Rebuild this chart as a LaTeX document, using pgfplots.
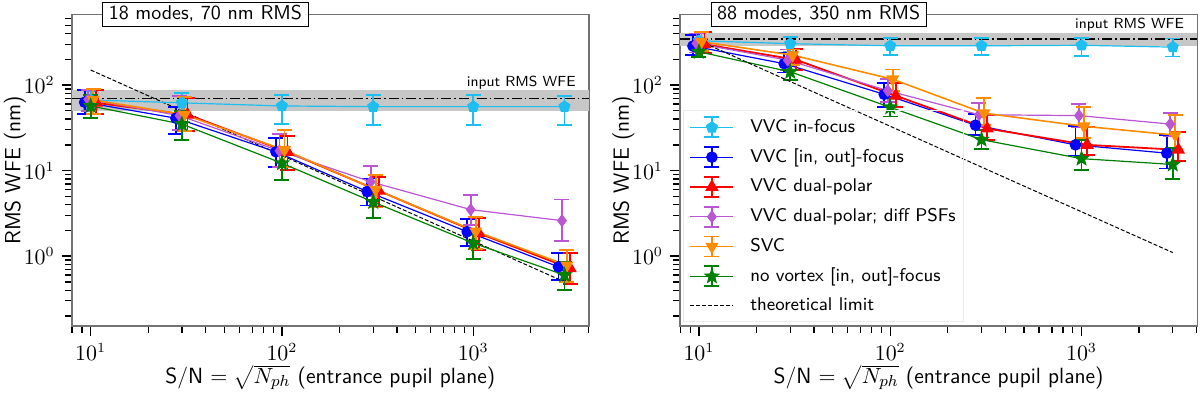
\documentclass[border=0pt]{standalone}
\usepackage{pgfplots}
\pgfplotsset{compat=1.18}

\definecolor{cCyan}{RGB}{30,190,240}
\definecolor{cBlue}{RGB}{0,0,255}
\definecolor{cRed}{RGB}{255,0,0}
\definecolor{cPurple}{RGB}{186,85,211}
\definecolor{cOrange}{RGB}{255,140,0}
\definecolor{cGreen}{RGB}{0,128,0}

\newcommand\fs[1]{\fontsize{#1}{#1}\selectfont}

% filled five-point star
\pgfdeclareplotmark{fstar}{%
  \pgfpathmoveto{\pgfpointpolar{90}{1.3\pgfplotmarksize}}%
  \pgfpathlineto{\pgfpointpolar{126}{0.55\pgfplotmarksize}}%
  \pgfpathlineto{\pgfpointpolar{162}{1.3\pgfplotmarksize}}%
  \pgfpathlineto{\pgfpointpolar{198}{0.55\pgfplotmarksize}}%
  \pgfpathlineto{\pgfpointpolar{234}{1.3\pgfplotmarksize}}%
  \pgfpathlineto{\pgfpointpolar{270}{0.55\pgfplotmarksize}}%
  \pgfpathlineto{\pgfpointpolar{306}{1.3\pgfplotmarksize}}%
  \pgfpathlineto{\pgfpointpolar{342}{0.55\pgfplotmarksize}}%
  \pgfpathlineto{\pgfpointpolar{18}{1.3\pgfplotmarksize}}%
  \pgfpathlineto{\pgfpointpolar{54}{0.55\pgfplotmarksize}}%
  \pgfpathclose\pgfusepathqfillstroke}

\pgfplotsset{
  ebleg/.style={legend image code/.code={
      \draw[##1,line width=0.9pt] (10.75pt,-5pt) -- (10.75pt,5pt)
        (7pt,-5pt) -- (14.5pt,-5pt) (7pt,5pt) -- (14.5pt,5pt);
      \draw[##1] (0pt,0pt) -- (21.5pt,0pt);
      \draw[##1] plot coordinates {(10.75pt,0pt)};
  }},
  sCyan/.style={cCyan, mark=pentagon*, line width=0.6pt, mark size=2.8pt, ebleg},
  sBlue/.style={cBlue, mark=*, line width=0.6pt, mark size=2.6pt, ebleg},
  sRed/.style={cRed, mark=triangle*, line width=0.9pt, mark size=3pt, ebleg},
  sPurple/.style={cPurple, mark=diamond*, line width=0.6pt, mark size=2.8pt, ebleg},
  sOrange/.style={cOrange, mark=triangle*, mark options={rotate=180}, line width=0.8pt, mark size=3pt, ebleg},
  sGreen/.style={cGreen, mark=fstar, line width=0.6pt, mark size=2.7pt, ebleg},
  sTheory/.style={black, dash pattern=on 2pt off 1pt, line width=0.5pt, mark=none,
    error bars/y dir=none,
    legend image code/.code={\draw[##1] (0pt,0pt) -- (21.5pt,0pt);}},
  sBand/.style={forget plot, draw=none, fill=black!22, error bars/y dir=none},
  sInput/.style={forget plot, black, line width=0.7pt, error bars/y dir=none,
    dash pattern=on 5pt off 1.5pt on 0.8pt off 1.5pt},
}

\begin{document}
\begin{tikzpicture}
% ---------------- left: 18 modes ----------------
\begin{axis}[
    at={(0pt,0pt)}, anchor=south west,
    xmode=log, ymode=log,
    scale only axis, width=258.65pt, height=155.85pt,
    xmin=7.96, xmax=4030, ymin=0.152, ymax=671,
    clip=false,
    axis line style={draw=black!55, line width=0.8pt},
    tick align=outside, xtick pos=bottom, ytick pos=left,
    major tick length=5pt, minor tick length=3.3pt,
    every tick/.style={black, line width=0.65pt},
    xtick={10,100,1000}, ytick={1,10,100},
    minor xtick={8,9,20,30,40,50,60,70,80,90,200,300,400,500,600,700,800,900,2000,3000,4000},
    minor ytick={0.2,0.3,0.4,0.5,0.6,0.7,0.8,0.9,2,3,4,5,6,7,8,9,20,30,40,50,60,70,80,90,200,300,400,500,600},
    tick label style={font=\fs{10.5}},
    xlabel={S/N $=\sqrt{N_{ph}}$ (entrance pupil plane)},
    ylabel={RMS WFE (nm)},
    label style={font=\fs{11}\sffamily},
    xlabel style={at={(axis description cs:0.5,-0.183)}, anchor=base},
    ylabel style={at={(axis description cs:-0.1096,0.5)}, rotate=0, anchor=center},
    error bars/y dir=both, error bars/y explicit,
    error bars/error bar style={line width=0.9pt},
    error bars/error mark options={rotate=90, mark size=3.75pt, line width=0.9pt},
]
\addplot[sBand] coordinates {(7.96,50) (4030,50) (4030,87) (7.96,87)} -- cycle;
\addplot[sInput] coordinates {(7.96,70) (4030,70)};
\addplot[forget plot, sTheory] coordinates {(10,150) (3000,0.5)};

\addplot[sCyan] coordinates {
  (10,67) += (0,19) -= (0,15)
  (30,62) += (0,18) -= (0,14)
  (100,57) += (0,19) -= (0,22)
  (300,56) += (0,20) -= (0,22)
  (1000,56) += (0,20) -= (0,22)
  (3000,56) += (0,19) -= (0,22)
};
\addplot[sBlue] coordinates {
  (9.3,63) += (0,24) -= (0,17)
  (27.9,41) += (0,14) -= (0,14)
  (93,16.6) += (0,7.4) -= (0,5.6)
  (279,5.7) += (0,2.4) -= (0,1.8)
  (930,1.93) += (0,0.77) -= (0,0.63)
  (2790,0.75) += (0,0.33) -= (0,0.22)
};
\addplot[sRed] coordinates {
  (10.7,62) += (0,26) -= (0,16)
  (32.1,45) += (0,25) -= (0,16)
  (107,16.5) += (0,9) -= (0,6.3)
  (321,5.8) += (0,2.6) -= (0,2.0)
  (1070,1.85) += (0,0.95) -= (0,0.68)
  (3210,0.72) += (0,0.36) -= (0,0.25)
};
\addplot[sPurple] coordinates {
  (9.7,68) += (0,20) -= (0,18)
  (29.1,44) += (0,30) -= (0,14)
  (97,17) += (0,10) -= (0,6)
  (291,7.4) += (0,3.8) -= (0,2.4)
  (970,3.5) += (0,1.7) -= (0,1.2)
  (2910,2.6) += (0,2.0) -= (0,1.1)
};
\addplot[sOrange] coordinates {
  (10.3,67) += (0,23) -= (0,21)
  (30.9,45) += (0,27) -= (0,16)
  (103,17.4) += (0,12.6) -= (0,6.4)
  (309,6.0) += (0,2.9) -= (0,2.3)
  (1030,1.95) += (0,0.9) -= (0,0.75)
  (3090,0.78) += (0,0.39) -= (0,0.28)
};
\addplot[sGreen] coordinates {
  (10,57) += (0,19) -= (0,16)
  (30,35) += (0,15) -= (0,12)
  (100,12.2) += (0,5.8) -= (0,4.5)
  (300,4.3) += (0,2.0) -= (0,1.5)
  (1000,1.42) += (0,0.68) -= (0,0.49)
  (3000,0.6) += (0,0.26) -= (0,0.2)
};

\node[anchor=east, font=\fs{7.3}\sffamily, inner sep=0pt] at (axis cs:3446,105.5) {input RMS WFE};
\node[anchor=west, draw=black, line width=0.5pt, fill=white, font=\fs{10}\sffamily,
      inner xsep=3pt, inner ysep=1.5pt, text height=7pt, text depth=1.9pt]
      at (axis cs:11.5,671) {18 modes, 70 nm RMS};
\end{axis}

% ---------------- right: 88 modes ----------------
\begin{axis}[
    at={(304.15pt,0pt)}, anchor=south west,
    xmode=log, ymode=log,
    scale only axis, width=258.65pt, height=155.85pt,
    xmin=7.96, xmax=4030, ymin=0.152, ymax=671,
    clip=false,
    axis line style={draw=black!55, line width=0.8pt},
    tick align=outside, xtick pos=bottom, ytick pos=left,
    major tick length=5pt, minor tick length=3.3pt,
    every tick/.style={black, line width=0.65pt},
    xtick={10,100,1000}, ytick={1,10,100},
    minor xtick={8,9,20,30,40,50,60,70,80,90,200,300,400,500,600,700,800,900,2000,3000,4000},
    minor ytick={0.2,0.3,0.4,0.5,0.6,0.7,0.8,0.9,2,3,4,5,6,7,8,9,20,30,40,50,60,70,80,90,200,300,400,500,600},
    tick label style={font=\fs{10.5}},
    xlabel={S/N $=\sqrt{N_{ph}}$ (entrance pupil plane)},
    ylabel={RMS WFE (nm)},
    label style={font=\fs{11}\sffamily},
    xlabel style={at={(axis description cs:0.5,-0.183)}, anchor=base},
    ylabel style={at={(axis description cs:-0.1096,0.5)}, rotate=0, anchor=center},
    error bars/y dir=both, error bars/y explicit,
    error bars/error bar style={line width=0.9pt},
    error bars/error mark options={rotate=90, mark size=3.75pt, line width=0.9pt},
    legend cell align=left,
    legend style={at={(0.006,0.693)}, anchor=north west, draw=black!8, fill=none,
      font=\fs{9.2}\sffamily, inner xsep=3pt, inner ysep=3pt, row sep=4pt,
      nodes={inner sep=1pt},
      /tikz/every odd column/.append style={column sep=7pt}},
]
\addplot[sBand] coordinates {(7.96,285) (4030,285) (4030,405) (7.96,405)} -- cycle;
\addplot[sInput] coordinates {(7.96,345) (4030,345)};

\addplot[sCyan] coordinates {
  (10,330) += (0,70) -= (0,60)
  (30,305) += (0,63) -= (0,60)
  (100,288) += (0,69) -= (0,64)
  (300,288) += (0,69) -= (0,64)
  (1000,292) += (0,65) -= (0,72)
  (3000,278) += (0,72) -= (0,62)
};
\addlegendentry{VVC in-focus}
\addplot[sBlue] coordinates {
  (9.3,286) += (0,98) -= (0,61)
  (27.9,178) += (0,62) -= (0,38)
  (93,78) += (0,28) -= (0,23)
  (279,34) += (0,12) -= (0,8)
  (930,20) += (0,13) -= (0,5)
  (2790,16) += (0,10) -= (0,5.4)
};
\addlegendentry{VVC [in, out]-focus}
\addplot[sRed] coordinates {
  (10.7,300) += (0,114) -= (0,65)
  (32.1,198) += (0,66) -= (0,48)
  (107,75) += (0,30) -= (0,19)
  (321,31) += (0,13.6) -= (0,8.3)
  (1070,20) += (0,12.6) -= (0,4.8)
  (3210,17.5) += (0,11) -= (0,4.5)
};
\addlegendentry{VVC dual-polar}
\addplot[sPurple] coordinates {
  (9.7,307) += (0,93) -= (0,67)
  (29.1,196) += (0,64) -= (0,46)
  (97,86) += (0,32) -= (0,23)
  (291,45) += (0,17) -= (0,12)
  (970,44) += (0,16) -= (0,12)
  (2910,35) += (0,12) -= (0,10)
};
\addlegendentry{VVC dual-polar; diff PSFs}
\addplot[sOrange] coordinates {
  (10.3,321) += (0,93) -= (0,71)
  (30.9,224) += (0,36) -= (0,54)
  (103,117) += (0,35) -= (0,32)
  (309,47) += (0,23) -= (0,13)
  (1030,33) += (0,23) -= (0,9)
  (3090,26) += (0,19) -= (0,8)
};
\addlegendentry{SVC}
\addplot[sGreen] coordinates {
  (10,245) += (0,55) -= (0,31)
  (30,143) += (0,44) -= (0,29)
  (100,55) += (0,15) -= (0,12)
  (300,23) += (0,7) -= (0,5.2)
  (1000,13.8) += (0,8.9) -= (0,3.6)
  (3000,11.8) += (0,6.4) -= (0,3.9)
};
\addlegendentry{no vortex [in, out]-focus}
\addplot[sTheory] coordinates {(10,330) (3000,1.1)};
\addlegendentry{theoretical limit}

\node[anchor=east, font=\fs{7.3}\sffamily, inner sep=0pt] at (axis cs:3446,503) {input RMS WFE};
\node[anchor=west, draw=black, line width=0.5pt, fill=white, font=\fs{10}\sffamily,
      inner xsep=3pt, inner ysep=1.5pt, text height=7pt, text depth=1.9pt]
      at (axis cs:11.5,671) {88 modes, 350 nm RMS};
\end{axis}

\pgfresetboundingbox
\path (-35.85pt,-34.5pt) rectangle (564.15pt,163.05pt);
\end{tikzpicture}
\end{document}
